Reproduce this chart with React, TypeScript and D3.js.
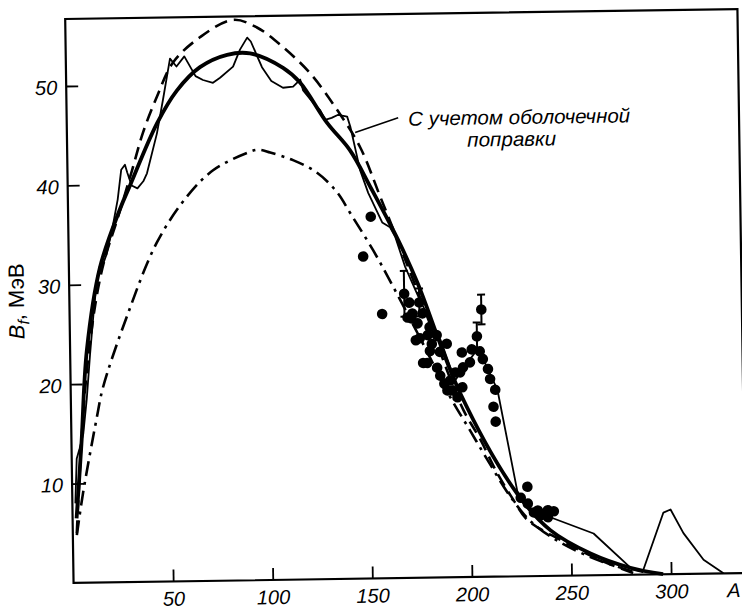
import { useEffect, useRef } from "react";
import {
  select,
  scaleLinear,
  line,
  curveCatmullRom,
  curveLinear,
  axisLeft,
  axisBottom,
} from "d3";

// гладкая кривая (жирная сплошная)
const solidA = [2, 5, 8.4, 15.6, 26, 31.3, 45.3, 55.6, 67.3, 81, 92.6, 109, 117.4, 130.7, 142, 151.9, 165.5, 174.8, 195.5, 223.4, 239.7, 259.7, 279.6, 296];
const solidB = [6.5, 14, 23.4, 31.7, 37.5, 39.9, 46.1, 49.4, 51.7, 52.9, 53.0, 51.5, 50.0, 45.9, 43.1, 39.4, 34.0, 29.7, 18.5, 8.3, 4.6, 2.2, 0.7, 0];

// штриховая
const dashA = [2, 7, 13, 18, 24.5, 32.4, 38.2, 45.5, 53.8, 67.5, 84.2, 96.2, 109.1, 122.6, 135.8, 147.1, 156.8, 168, 180, 190, 197, 205.3, 213.5, 221.4, 228.1, 244.7, 264.7, 283];
const dashB = [5, 19, 28, 32.5, 36.4, 41.4, 45.2, 48.8, 52.2, 54.7, 56.4, 55.6, 53.6, 50.9, 47.2, 43.4, 38.4, 32.5, 26, 20.3, 16.8, 13.8, 10.4, 7.7, 5.7, 3.6, 1.5, 0];

// штрихпунктирная
const dotA = [2, 5.4, 13, 16.2, 28.7, 44.3, 59.8, 73.1, 90.3, 96, 101.9, 113.3, 125.3, 135.2, 141.6, 152.9, 162.7, 176.8, 190, 200, 210, 220, 230, 245, 265, 283];
const dotB = [4.8, 9.0, 16.7, 19.6, 26.7, 34.1, 38.7, 41.3, 43.0, 43.3, 43.0, 42.2, 40.9, 38.9, 36.8, 33.0, 29.3, 23.7, 18.3, 14.8, 11.3, 8.0, 5.5, 3.3, 1.4, 0.2];

// с учетом оболочечной поправки (тонкая)
const shellA = [1.5, 2.5, 4, 6, 8, 10, 12, 14, 15.5, 17.5, 19, 22, 25, 27, 28.9, 30, 32.1, 35, 38, 39.9, 45.2, 48.5, 52.3, 55.5, 59.5, 65, 68.7, 73.7, 77.3, 83.9, 87.5, 91.2, 93, 98.4, 103, 108.8, 113.9, 117.5, 118.9, 124.8, 127.3, 129.7, 133, 136.3, 140.8, 142.3, 146.9, 150.8, 157.6, 161.5, 164.1, 168.8, 176, 186, 193, 200.6, 204.9, 214.2, 223.4, 228.4, 239.8, 261.4, 280.7, 285.7, 296.6, 300.2, 306.5, 316.4, 326.3];
const shellB = [8, 12.5, 13.5, 15, 18.5, 23, 27, 30.5, 31.8, 32.2, 33, 35.5, 38.5, 41.5, 42.0, 41.2, 39.9, 39.6, 40.3, 41.1, 45.1, 48.5, 52.6, 51.8, 52.8, 50.8, 50.4, 50.1, 50.6, 51.7, 53.4, 54.6, 54.2, 51.6, 50.2, 49.5, 49.6, 50.3, 49.2, 47.7, 47.2, 46.2, 46.4, 46.7, 46.5, 45.5, 41.1, 38.8, 35.8, 35.3, 34.3, 31.3, 27.9, 23.9, 19.8, 21.9, 23.0, 18.8, 8.6, 7.0, 5.9, 4.2, 0.5, 0.25, 6.2, 6.5, 4.1, 1.4, 0];

// экспериментальные точки
const ptA = [151.9, 147.8, 156.9, 168.1, 175.6, 170.6, 172.1, 174.6, 179.6, 175.6, 180.6, 179.1, 184.1, 185.6, 190.6, 191.6, 196.6, 194.1, 193.1, 197.1, 200.6, 196.6, 201.6, 205.6, 207.1, 209.6, 210.6, 213.1, 212.1, 213.1, 189.1, 184.1, 181.6, 177.1, 180.6, 185.6, 189.1, 177.1, 173.6, 169.6, 171.6, 187.6, 195.6, 204.3, 206.7, 228.5, 225.1, 228.6, 233.6, 238.6, 238.6, 241.6, 235, 231.6];
const ptB = [36.4, 32.4, 26.6, 28.6, 27.7, 27.7, 26.6, 25.6, 24.4, 24.1, 22.8, 21.6, 21.1, 20.3, 19.8, 18.8, 19.1, 18.1, 20.6, 21.1, 21.6, 22.6, 22.9, 22.7, 21.9, 20.9, 19.9, 18.8, 17.1, 15.6, 23.5, 24.4, 23.5, 26.6, 25.2, 22.7, 18.8, 21.6, 23.9, 26.2, 26.1, 19.5, 20.6, 24.2, 26.9, 9.0, 7.9, 7.3, 6.6, 6.6, 5.9, 6.5, 6.1, 6.4];

// погрешности
const errA = [168.1, 175.6, 204.3, 206.7];
const errB = [28.6, 27.7, 24.2, 26.9];
const errD = [2.3, 1.4, 1.4, 1.5];

const xTicks = [50, 100, 150, 200, 250, 300];
const yTicks = [10, 20, 30, 40, 50];

const FONT = "'Liberation Sans', Arial, sans-serif";

const zip = (a: number[], b: number[]) => a.map((v, i) => [v, b[i]] as [number, number]);

const App = () => {
  const ref = useRef<SVGSVGElement>(null);

  useEffect(() => {
    const svg = select(ref.current);
    svg.selectAll("*").remove();

    const x = scaleLinear().domain([0, 300]).range([69.4, 667]);
    const y = scaleLinear().domain([0, 50]).range([578, 81]);

    // рисунок слегка повернут (скан)
    const g = svg.append("g").attr("transform", "rotate(-0.85,405,300)");

    // рамка
    g.append("rect")
      .attr("x", x(0))
      .attr("y", y(56.74))
      .attr("width", x(337.5) - x(0))
      .attr("height", y(0) - y(56.74))
      .attr("fill", "none")
      .attr("stroke", "#000")
      .attr("stroke-width", 2.2);

    // оси
    const ax = g
      .append("g")
      .attr("transform", `translate(0,${y(0)})`)
      .call(axisBottom(x).tickValues(xTicks).tickSizeInner(-12).tickSizeOuter(0).tickPadding(10));
    const ay = g
      .append("g")
      .attr("transform", `translate(${x(0)},0)`)
      .call(axisLeft(y).tickValues(yTicks).tickSizeInner(-12).tickSizeOuter(0).tickPadding(9));
    [ax, ay].forEach((a) => {
      a.select(".domain").remove();
      a.attr("font-family", FONT).attr("font-size", 20);
      a.selectAll("line").attr("stroke", "#000").attr("stroke-width", 1.8);
      a.selectAll("text").attr("font-style", "italic").attr("fill", "#000");
    });
    ay.selectAll("text").attr("dy", "0.4em");

    const mk = (c: any) =>
      line<[number, number]>()
        .x((d) => x(d[0]))
        .y((d) => y(d[1]))
        .curve(c);

    const smooth = mk(curveCatmullRom.alpha(0.5));

    g.append("path")
      .attr("d", smooth(zip(dotA, dotB)))
      .attr("fill", "none")
      .attr("stroke", "#000")
      .attr("stroke-width", 2.6)
      .attr("stroke-dasharray", "15 6 3 6");

    g.append("path")
      .attr("d", smooth(zip(dashA, dashB)))
      .attr("fill", "none")
      .attr("stroke", "#000")
      .attr("stroke-width", 2.6)
      .attr("stroke-dasharray", "13 7");

    g.append("path")
      .attr("d", smooth(zip(solidA, solidB)))
      .attr("fill", "none")
      .attr("stroke", "#000")
      .attr("stroke-width", 3.8);

    g.append("path")
      .attr("d", mk(curveLinear)(zip(shellA, shellB)))
      .attr("fill", "none")
      .attr("stroke", "#000")
      .attr("stroke-width", 1.8)
      .attr("stroke-linejoin", "round");

    // точки
    g.append("g")
      .selectAll("circle")
      .data(zip(ptA, ptB))
      .enter()
      .append("circle")
      .attr("cx", (d) => x(d[0]))
      .attr("cy", (d) => y(d[1]))
      .attr("r", 5.3)
      .attr("fill", "#000");

    // погрешности
    const eb = g.append("g").attr("stroke", "#000").attr("stroke-width", 2);
    errA.forEach((a, i) => {
      const cx = x(a);
      const y1 = y(errB[i] + errD[i]);
      const y2 = y(errB[i] - errD[i]);
      eb.append("line").attr("x1", cx).attr("x2", cx).attr("y1", y1).attr("y2", y2);
      eb.append("line").attr("x1", cx - 4).attr("x2", cx + 4).attr("y1", y1).attr("y2", y1);
      eb.append("line").attr("x1", cx - 4).attr("x2", cx + 4).attr("y1", y2).attr("y2", y2);
    });

    // подпись
    g.append("line")
      .attr("x1", x(166.4))
      .attr("y1", y(46.3))
      .attr("x2", x(144.7))
      .attr("y2", y(44.9))
      .attr("stroke", "#000")
      .attr("stroke-width", 1.6);
    g.append("text")
      .attr("x", x(171.4))
      .attr("y", y(45.5))
      .attr("font-family", FONT)
      .attr("font-style", "italic")
      .attr("font-size", 20)
      .attr("textLength", 222)
      .attr("lengthAdjust", "spacingAndGlyphs")
      .text("С учетом оболочечной");
    g.append("text")
      .attr("x", x(200.9))
      .attr("y", y(43.3))
      .attr("font-family", FONT)
      .attr("font-style", "italic")
      .attr("font-size", 20)
      .attr("textLength", 89)
      .attr("lengthAdjust", "spacingAndGlyphs")
      .text("поправки");

    // названия осей
    const yt = g
      .append("text")
      .attr("transform", `translate(24,${y(28.4)}) rotate(-90)`)
      .attr("text-anchor", "middle")
      .attr("font-family", FONT)
      .attr("font-size", 22);
    yt.append("tspan").attr("font-style", "italic").text("B");
    yt.append("tspan").attr("font-style", "italic").attr("font-size", 16).attr("dy", 5).text("f");
    yt.append("tspan").attr("dy", -5).text(", МэВ");

    g.append("text")
      .attr("x", x(328))
      .attr("y", 602)
      .attr("font-family", FONT)
      .attr("font-style", "italic")
      .attr("font-size", 20)
      .text("A");
  }, []);

  return (
    <svg
      ref={ref}
      width={742}
      height={611}
      style={{ position: "absolute", left: 0, top: 0, background: "#fff", display: "block" }}
    />
  );
};

export default App;
